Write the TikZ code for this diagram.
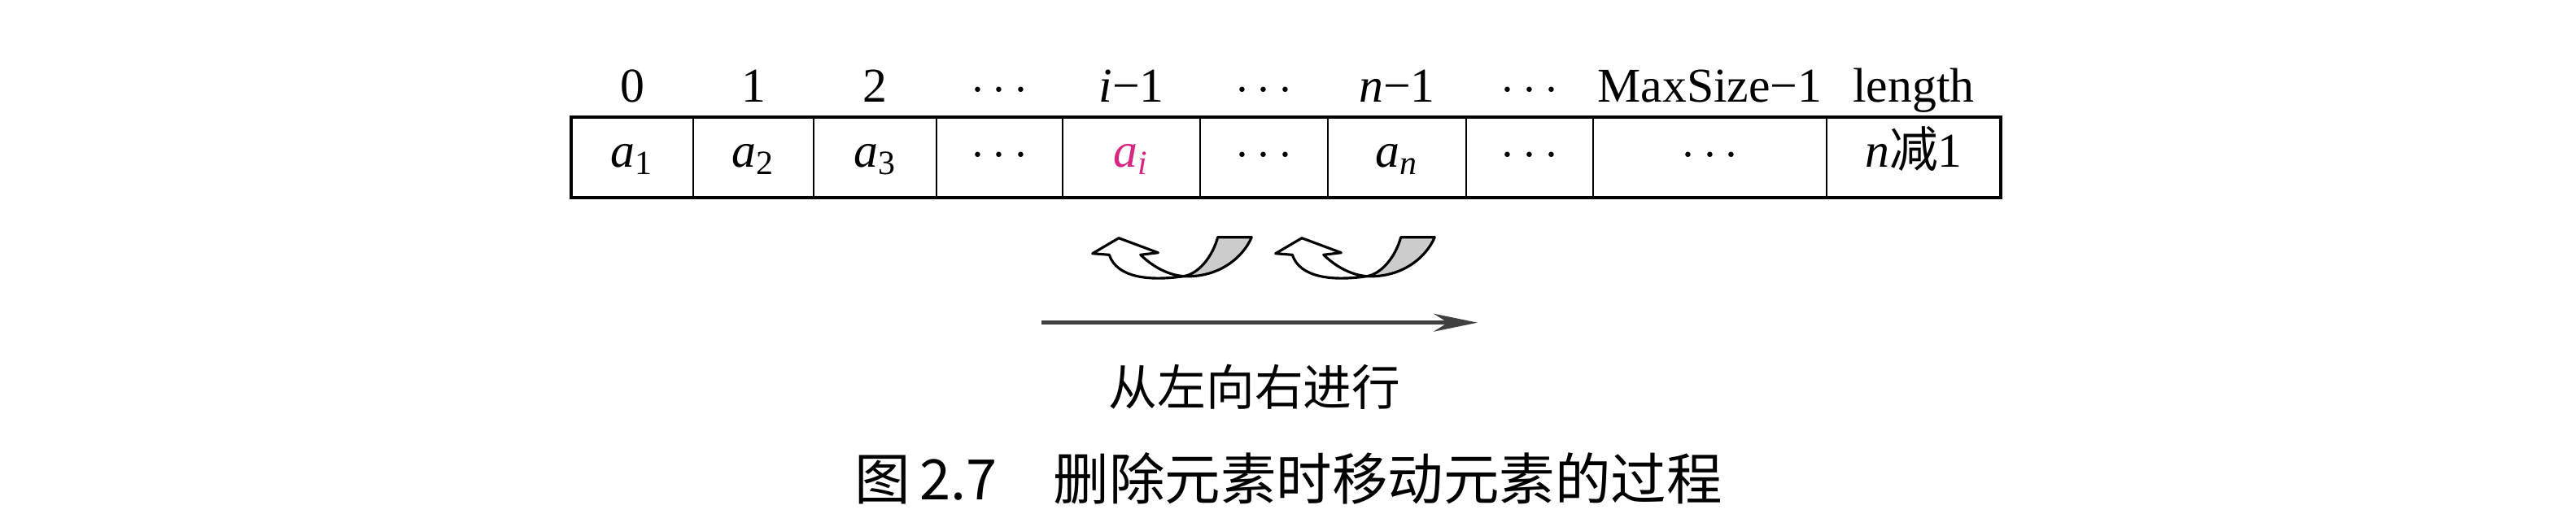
\documentclass[tikz,border=0pt]{standalone}
\usepackage{fontspec}
\setmainfont{Liberation Serif}
\newfontfamily\cjk{Noto Sans CJK SC}
\usetikzlibrary{positioning,arrows.meta}
\definecolor{pinkred}{RGB}{214,40,128}
\tikzset{
  cell/.style={draw, line width=0.8pt, minimum height=0.99cm, inner sep=0pt, outer sep=0pt,
    text height=0.39cm, text depth=0.16cm, font=\fontsize{17}{20}\selectfont},
  idx/.style={anchor=base, inner sep=0pt, font=\fontsize{17}{20}\selectfont},
  twistarrow/.pic={
    \draw[line width=0.9pt, fill=white, line join=round]
      (0,0) -- (0.323,0.19) -- (0.806,0.01) -- (0.59,-0.016)
      .. controls (0.72,-0.14) and (0.9,-0.26) .. (1.12,-0.28)
      .. controls (0.7,-0.34) and (0.3,-0.3) .. (0.206,-0.016) -- cycle;
    \draw[line width=0.9pt, fill=gray!40, line join=round]
      (1.12,-0.28) .. controls (1.3,-0.25) and (1.47,-0.05) .. (1.54,0.2)
      -- (1.956,0.2) .. controls (1.85,-0.05) and (1.55,-0.3) .. (1.12,-0.28) -- cycle;
  }
}
\begin{document}
\begin{tikzpicture}
  \useasboundingbox (0,0) rectangle (31.66,6.31);
  % the array
  \node[cell, minimum width=1.50cm, anchor=north west] (c1) at (7.02,4.87) {\textit{a}\textsubscript{1}};
  \node[cell, minimum width=1.48cm, right=0pt of c1] (c2) {\textit{a}\textsubscript{2}};
  \node[cell, minimum width=1.51cm, right=0pt of c2] (c3) {\textit{a}\textsubscript{3}};
  \node[cell, minimum width=1.55cm, right=0pt of c3] (c4) {$\cdots$};
  \node[cell, minimum width=1.69cm, right=0pt of c4, text=pinkred] (c5) {\textit{a}\textsubscript{\textit{i}}};
  \node[cell, minimum width=1.57cm, right=0pt of c5] (c6) {$\cdots$};
  \node[cell, minimum width=1.70cm, right=0pt of c6] (c7) {\textit{a}\textsubscript{\textit{n}}};
  \node[cell, minimum width=1.56cm, right=0pt of c7] (c8) {$\cdots$};
  \node[cell, minimum width=2.87cm, right=0pt of c8] (c9) {$\cdots$};
  \node[cell, minimum width=2.14cm, right=0pt of c9] (c10) {\textit{n}{\cjk 减}1};
  \draw[line width=1.1pt] (c1.north west) rectangle (c10.south east);
  % indices
  \node[idx] (l1) at ([yshift=0.19cm]c1.north) {0};
  \node[idx] (l2) at ([yshift=0.19cm]c2.north) {1};
  \node[idx] (l3) at ([yshift=0.19cm]c3.north) {2};
  \node[idx] (l4) at ([yshift=0.19cm]c4.north) {$\cdots$};
  \node[idx] (l5) at ([yshift=0.19cm]c5.north) {\textit{i}−1};
  \node[idx] (l6) at ([yshift=0.19cm]c6.north) {$\cdots$};
  \node[idx] (l7) at ([yshift=0.19cm]c7.north) {\textit{n}−1};
  \node[idx] (l8) at ([yshift=0.19cm]c8.north) {$\cdots$};
  \node[idx] (l9) at ([yshift=0.19cm]c9.north) {MaxSize−1};
  \node[idx] (l10) at ([yshift=0.19cm]c10.north) {length};
  % moves
  \pic at (13.427,3.193) {twistarrow};
  \pic at (15.677,3.193) {twistarrow};
  \coordinate (from) at (12.80,2.343);
  \coordinate (to) at (18.16,2.343);
  \draw[line width=1.3pt, black!75, -{Stealth[length=0.54cm, width=0.22cm]}] (from) -- (to);
  \node[font=\cjk\fontsize{17}{20}\selectfont] (dir) at (15.42,1.55) {从左向右进行};
  \node[font=\cjk\fontsize{19.5}{22}\selectfont] (cap) at (15.84,0.43) {图\,2.7\quad 删除元素时移动元素的过程};
\end{tikzpicture}
\end{document}
